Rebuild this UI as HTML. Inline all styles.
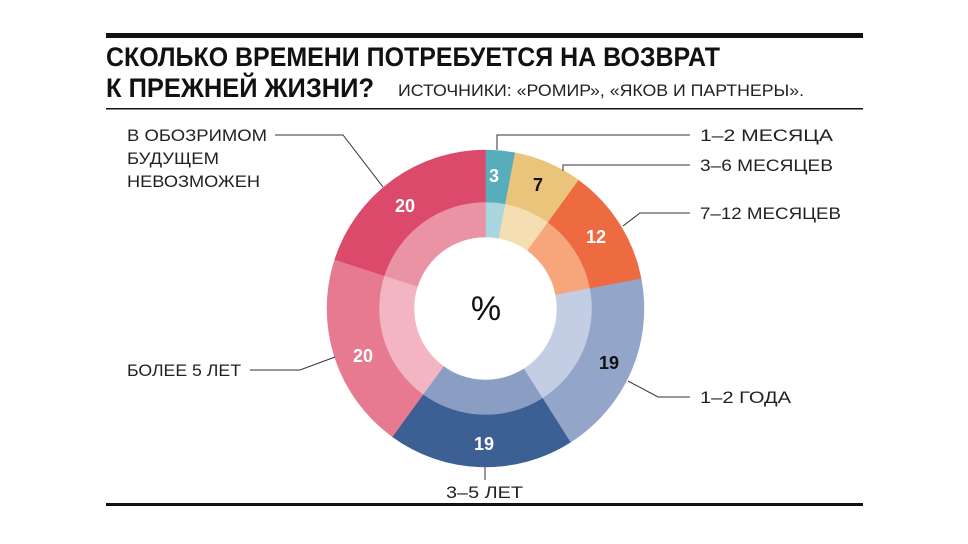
<!DOCTYPE html>
<html><head><meta charset="utf-8"><style>html,body{margin:0;padding:0;background:#fff}svg{display:block}</style></head>
<body>
<svg id="s" width="968" height="544" viewBox="0 0 968 544" xmlns="http://www.w3.org/2000/svg" font-family="'Liberation Sans Narrow','Liberation Sans',sans-serif">
<rect x="106" y="33" width="757" height="5" fill="#111"/>
<text x="106" y="66" font-size="27" font-weight="bold" textLength="614" lengthAdjust="spacingAndGlyphs" fill="#111">СКОЛЬКО ВРЕМЕНИ ПОТРЕБУЕТСЯ НА ВОЗВРАТ</text>
<text x="106" y="97" font-size="27" font-weight="bold" textLength="268" lengthAdjust="spacingAndGlyphs" fill="#111">К ПРЕЖНЕЙ ЖИЗНИ?</text>
<text x="398" y="96" font-size="17" textLength="406" lengthAdjust="spacingAndGlyphs" fill="#222">ИСТОЧНИКИ: «РОМИР», «ЯКОВ И ПАРТНЕРЫ».</text>
<rect x="106" y="108" width="757" height="1.5" fill="#111"/>
<rect x="106" y="503" width="757" height="3" fill="#111"/>
<g id="pie"></g>
<text x="486" y="320" font-size="34" text-anchor="middle" fill="#111" font-family="'Liberation Sans',sans-serif">%</text>
<g font-family="'Liberation Sans',sans-serif" font-size="18" font-weight="bold" text-anchor="middle">
<text x="494" y="182" fill="#fff">3</text>
<text x="538" y="191" fill="#111">7</text>
<text x="596" y="243" fill="#fff">12</text>
<text x="609" y="369" fill="#111">19</text>
<text x="484" y="450" fill="#fff">19</text>
<text x="363" y="362" fill="#fff">20</text>
<text x="405" y="212" fill="#fff">20</text>
</g>
<g stroke="#333" stroke-width="1" fill="none">
<polyline points="275,135 343,135 383,187"/>
<polyline points="497,150 497,135 690,135"/>
<polyline points="563,171 563,165 690,165"/>
<polyline points="623,226 640,213 690,213"/>
<polyline points="628,381 658,397 690,397"/>
<polyline points="250,370 300,370 335,357"/>
<polyline points="485,467 485,480"/>
</g>
<g font-size="17" fill="#222">
<text x="127" y="141" textLength="140" lengthAdjust="spacingAndGlyphs">В ОБОЗРИМОМ</text>
<text x="127" y="164" textLength="92" lengthAdjust="spacingAndGlyphs">БУДУЩЕМ</text>
<text x="127" y="187" textLength="133" lengthAdjust="spacingAndGlyphs">НЕВОЗМОЖЕН</text>
<text x="127" y="376" textLength="114" lengthAdjust="spacingAndGlyphs">БОЛЕЕ 5 ЛЕТ</text>
<text x="700" y="141" textLength="133" lengthAdjust="spacingAndGlyphs">1–2 МЕСЯЦА</text>
<text x="700" y="171" textLength="133" lengthAdjust="spacingAndGlyphs">3–6 МЕСЯЦЕВ</text>
<text x="700" y="219" textLength="141" lengthAdjust="spacingAndGlyphs">7–12 МЕСЯЦЕВ</text>
<text x="700" y="403" textLength="91" lengthAdjust="spacingAndGlyphs">1–2 ГОДА</text>
<text x="446" y="498" textLength="77" lengthAdjust="spacingAndGlyphs">3–5 ЛЕТ</text>
</g>
</svg>
<script>
(function(){
var cx=485.5,cy=308.5,R=158.5,M=106,r=71.5;
var d=[[3,'#58adbd','#a8d5de'],[7,'#ebc47b','#f5dfb2'],[12,'#ee6a40','#f7a67c'],[19,'#93a6c9','#c3cde3'],[19,'#3c5f94','#8a9ec4'],[20,'#e77a90','#f3b5c2'],[20,'#db4a6b','#ea93a5']];
function p(a,rr){return [cx+rr*Math.sin(a),cy-rr*Math.cos(a)];}
function arc(a0,a1,ro,ri){var l=(a1-a0)>Math.PI?1:0;var A=p(a0,ro),B=p(a1,ro),C=p(a1,ri),D=p(a0,ri);
return 'M'+A+' A'+ro+','+ro+' 0 '+l+' 1 '+B+' L'+C+' A'+ri+','+ri+' 0 '+l+' 0 '+D+' Z';}
var g=document.getElementById('pie'),h='',a=0;
d.forEach(function(s){var b=a+s[0]/100*2*Math.PI;
h+='<path d="'+arc(a,b,R,M)+'" fill="'+s[1]+'" stroke="'+s[1]+'" stroke-width="0.5"/>';
h+='<path d="'+arc(a,b,M,r)+'" fill="'+s[2]+'" stroke="'+s[2]+'" stroke-width="0.5"/>';a=b;});
g.innerHTML=h;
})();
</script>
</body></html>
